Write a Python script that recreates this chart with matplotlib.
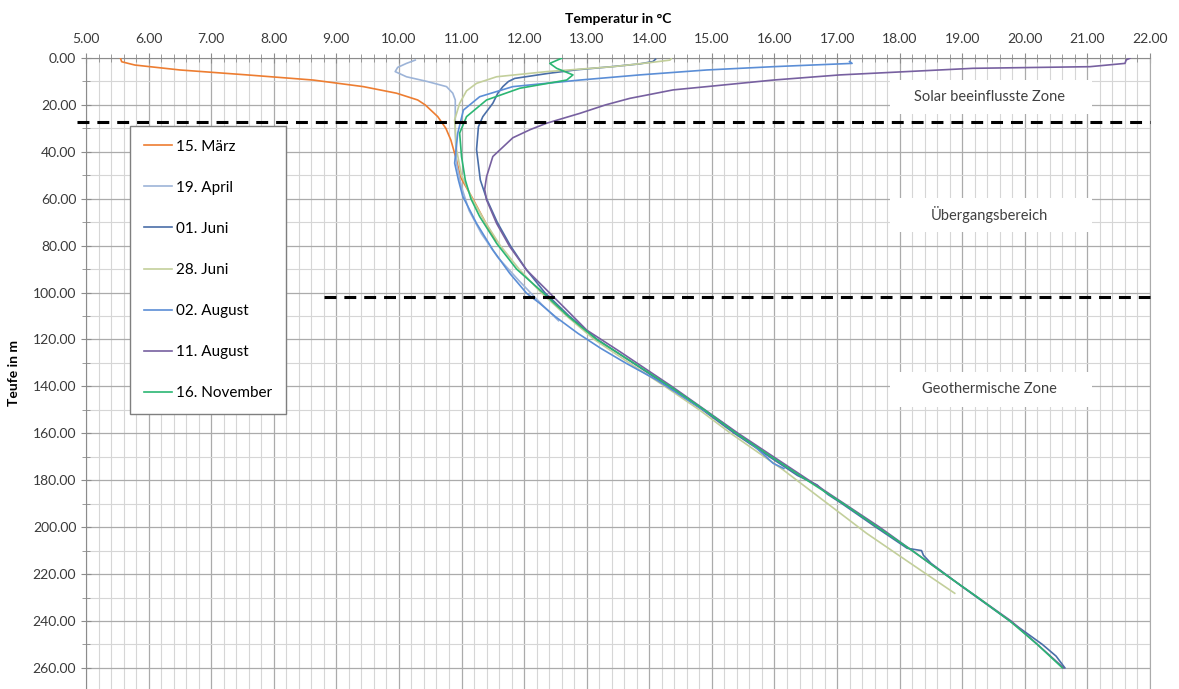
import matplotlib
matplotlib.use('Agg')
import matplotlib.pyplot as plt
from matplotlib.ticker import MultipleLocator, FormatStrFormatter
from matplotlib.patches import Rectangle

plt.rcParams['font.family'] = ['Lato', 'DejaVu Sans']

# Temperaturprofile (Teufe in m, Temperatur in °C)
maerz_d = [0.0, 1.6, 3.0, 5.1, 7.2, 9.4, 12.2, 15.0, 17.9, 20.0, 25.0, 30.0, 35.0, 43.5, 50.6, 60.0, 70.0, 78.0]
maerz_t = [5.55, 5.57, 5.78, 6.50, 7.57, 8.63, 9.43, 9.96, 10.30, 10.42, 10.62, 10.75, 10.83, 10.92, 10.98, 11.18, 11.38, 11.55]

april_d = [0.9, 2.3, 4.0, 5.8, 8.0, 10.0, 12.2, 15.0, 17.9, 25.0, 32.0, 45.0, 55.0, 65.0, 75.0, 85.0, 95.0, 105.0, 112.0]
april_t = [10.26, 10.12, 9.98, 9.94, 10.12, 10.45, 10.76, 10.86, 10.90, 10.90, 10.90, 10.92, 11.00, 11.12, 11.32, 11.58, 11.92, 12.28, 12.55]

juni01_d = [0.5, 1.5, 2.5, 3.7, 5.0, 6.5, 7.5, 8.7, 10.0, 12.2, 15.0, 19.3, 25.0, 29.3, 39.0, 52.0, 60.0, 70.0, 80.0,
            90.0, 100.0, 110.0, 120.0, 130.0, 140.0, 150.0, 160.0, 170.0, 178.0, 182.0, 186.0, 190.0, 200.0, 209.0,
            210.0, 212.0, 215.4, 225.0, 235.0, 245.0, 250.0, 255.0, 260.0]
juni01_t = [14.10, 14.06, 13.85, 13.40, 12.85, 12.40, 12.15, 11.85, 11.75, 11.66, 11.58, 11.50, 11.34, 11.27, 11.24,
            11.30, 11.40, 11.57, 11.78, 12.03, 12.33, 12.72, 13.17, 13.74, 14.30, 14.85, 15.36, 15.92, 16.37, 16.68,
            16.85, 17.08, 17.62, 18.12, 18.35, 18.38, 18.50, 18.98, 19.50, 20.02, 20.28, 20.50, 20.64]

juni28_d = [0.3, 0.9, 2.0, 3.7, 5.8, 8.0, 10.8, 14.0, 19.3, 26.4, 39.0, 50.0, 60.0, 70.0, 80.0, 90.0, 100.0, 110.0,
            120.0, 130.0, 140.0, 150.0, 160.0, 175.6, 190.0, 202.6, 215.0, 228.2]
juni28_t = [14.35, 14.33, 14.00, 13.42, 12.36, 11.56, 11.24, 11.08, 10.97, 10.89, 10.92, 11.00, 11.17, 11.38, 11.62,
            11.92, 12.27, 12.68, 13.12, 13.68, 14.25, 14.80, 15.30, 16.14, 16.85, 17.47, 18.15, 18.88]

aug02_d = [1.5, 2.3, 3.0, 3.7, 5.1, 7.2, 9.4, 12.2, 16.5, 22.2, 32.0, 44.8, 52.0, 59.0, 70.5, 81.8, 91.8, 100.3,
           104.6, 110.3, 117.4, 123.7, 130.0, 137.3, 152.9, 165.0, 172.8, 175.0]
aug02_t = [17.20, 17.24, 16.60, 15.98, 14.92, 13.85, 12.89, 11.82, 11.29, 11.03, 10.94, 10.89, 10.95, 11.02, 11.24,
           11.50, 11.77, 12.04, 12.25, 12.50, 12.86, 13.22, 13.62, 14.12, 15.03, 15.66, 15.98, 16.15]

aug11_d = [0.1, 0.8, 2.3, 3.7, 4.4, 5.8, 7.2, 9.4, 12.2, 13.6, 15.8, 17.2, 20.0, 23.6, 27.8, 30.5, 34.0, 42.0, 50.6,
           56.0, 60.5, 70.5, 80.4, 90.4, 98.9, 107.4, 116.0, 125.0, 140.0, 160.0, 180.0, 200.0, 220.0, 240.0, 260.0]
aug11_t = [21.68, 21.62, 21.60, 21.04, 19.17, 18.11, 17.05, 15.98, 14.92, 14.38, 13.96, 13.69, 13.30, 12.89, 12.36,
           12.10, 11.82, 11.50, 11.40, 11.37, 11.40, 11.56, 11.77, 12.04, 12.36, 12.68, 13.00, 13.52, 14.36, 15.42,
           16.55, 17.68, 18.72, 19.78, 20.62]

nov16_d = [0.1, 2.3, 4.4, 7.2, 9.4, 12.9, 17.9, 25.0, 32.0, 42.0, 52.0, 60.0, 67.6, 79.0, 90.0, 100.0, 110.0, 120.0,
           130.0, 140.0, 150.0, 160.0, 170.0, 180.0, 190.0, 200.0, 210.0, 220.0, 230.0, 240.0, 250.0, 260.0]
nov16_t = [12.60, 12.41, 12.52, 12.78, 12.68, 11.93, 11.40, 11.08, 10.97, 11.00, 11.06, 11.15, 11.29, 11.56, 11.88,
           12.30, 12.70, 13.16, 13.75, 14.33, 14.88, 15.39, 15.95, 16.52, 17.10, 17.65, 18.20, 18.72, 19.25, 19.76,
           20.20, 20.60]

labels = ['15. März', '19. April', '01. Juni', '28. Juni', '02. August', '11. August', '16. November']
colors = ['#ED7D31', '#9DB4D8', '#4A6EA8', '#C3CF9B', '#5B8ED6', '#7760A0', '#2BB673']

# Zonengrenzen (gestrichelt) und Beschriftungen
grenze_d = [27.3, 101.7]
grenze_von = [4.85, 8.8]
grenze_bis = 22.0
zonen = ['Solar beeinflusste Zone', 'Übergangsbereich', 'Geothermische Zone']
zonen_d = [16.6, 66.9, 141.3]
zonen_t = 19.44

fig = plt.figure(figsize=(11.79, 6.89), dpi=100)
ax = fig.add_axes([86/1179, 0, (1150-86)/1179, 1-58/689])
ax.set_xlim(5, 22)
ax.set_ylim(269, 0)

ax.xaxis.tick_top()
ax.xaxis.set_label_position('top')
ax.xaxis.set_major_locator(MultipleLocator(1))
ax.xaxis.set_minor_locator(MultipleLocator(0.2))
ax.yaxis.set_major_locator(MultipleLocator(20))
ax.yaxis.set_minor_locator(MultipleLocator(10))
ax.xaxis.set_major_formatter(FormatStrFormatter('%.2f'))
ax.yaxis.set_major_formatter(FormatStrFormatter('%.2f'))
ax.set_axisbelow(True)
ax.grid(which='major', color='#ababab', lw=0.9)
ax.grid(which='minor', color='#d6d6d6', lw=0.8)
ax.tick_params(which='both', direction='inout', color='#8c8c8c', labelsize=10, labelcolor='#3a3a3a')
ax.tick_params(which='major', length=7)
ax.tick_params(which='minor', length=6)
ax.tick_params(axis='x', pad=6)
for s in ['top', 'left']:
    ax.spines[s].set_color('#8c8c8c')
ax.spines['right'].set_color('#ababab')
ax.spines['bottom'].set_visible(False)

series = [(maerz_t, maerz_d), (april_t, april_d), (juni01_t, juni01_d), (juni28_t, juni28_d),
          (aug02_t, aug02_d), (aug11_t, aug11_d), (nov16_t, nov16_d)]
for (t, d), lab, c in zip(series, labels, colors):
    ax.plot(t, d, color=c, lw=1.2, label=lab, zorder=3)

for d, x0 in zip(grenze_d, grenze_von):
    ax.plot([x0, grenze_bis], [d, d], color='black', lw=2.2, dashes=(3.9, 2.6), clip_on=False, zorder=4)

for name, d in zip(zonen, zonen_d):
    ax.add_patch(Rectangle((17.84, d - 7.3), 3.23, 14.6, facecolor='white', edgecolor='none', zorder=1))
    ax.text(zonen_t, d, name, ha='center', va='center', fontsize=10.5, color='#404040', zorder=2)

ax.set_xlabel('Temperatur in °C', fontweight='bold', fontsize=10, labelpad=7)
ax.set_ylabel('Teufe in m', fontweight='bold', fontsize=10, labelpad=9)

leg = ax.legend(loc='upper left', bbox_to_anchor=(130/1179, 1-126/689), bbox_transform=fig.transFigure,
                frameon=True, fancybox=False, edgecolor='#7f7f7f', framealpha=1, fontsize=11,
                handlelength=1.85, handletextpad=0.25, labelspacing=1.77, borderpad=0.9, borderaxespad=0)
leg.get_frame().set_linewidth(1.0)
leg.set_zorder(5)

fig.savefig('out.png', dpi=100)
